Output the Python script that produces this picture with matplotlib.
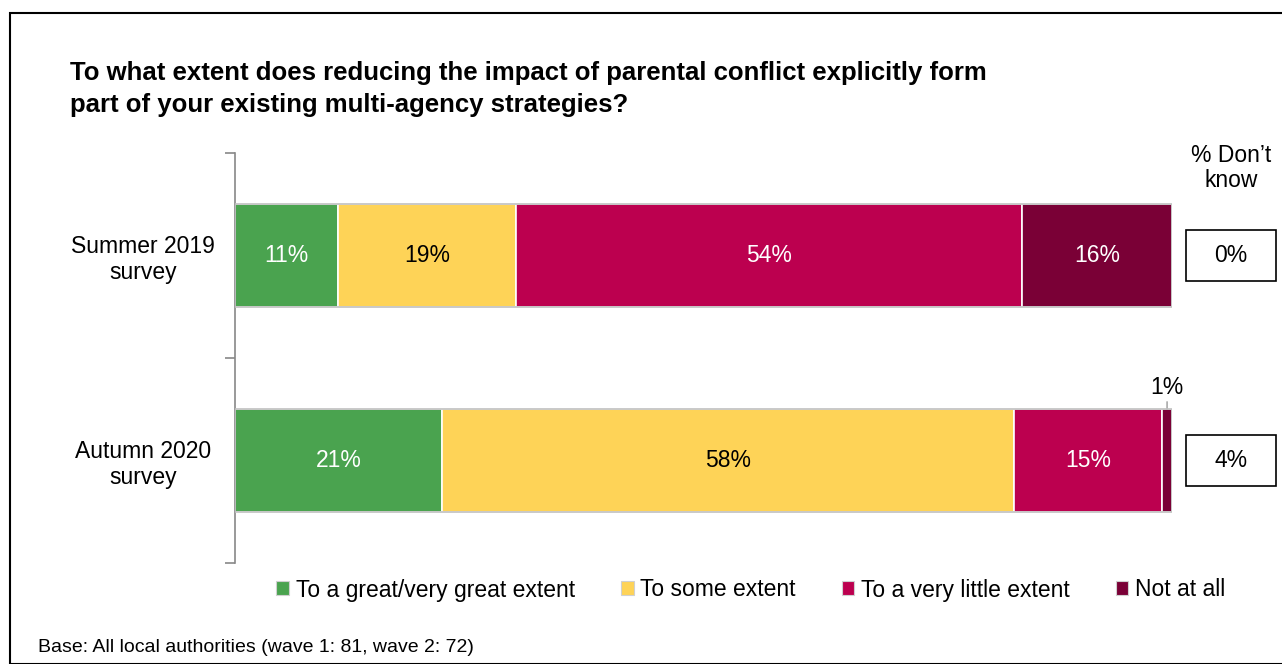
import numpy as np
import matplotlib.pyplot as plt
from matplotlib.patches import Patch, Rectangle
from matplotlib.transforms import blended_transform_factory

plt.rcParams['font.family'] = ['Liberation Sans', 'DejaVu Sans']

# Survey answers, % of respondents (labels as published)
waves = ['Summer 2019\nsurvey', 'Autumn 2020\nsurvey']
responses = ['To a great/very great extent', 'To some extent',
             'To a very little extent', 'Not at all']
summer_2019 = [11, 19, 54, 16]
autumn_2020 = [21, 58, 15, 1]
dont_know = [0, 4]

colours = ['#4aa34f', '#fed357', '#bc004f', '#7a0036']
label_colours = ['white', 'black', 'white', 'white']

fs = 16.5
fig = plt.figure(figsize=(12.82, 6.64), dpi=100)
W, H = 1282, 664

# frame around the slide
fig.patches.append(Rectangle((10 / W, 0), 1.0, 1 - 13 / H, transform=fig.transFigure,
                             fill=False, edgecolor='black', linewidth=1.5))

ax = fig.add_axes([235 / W, 1 - 563 / H, (1172 - 235) / W, (563 - 153) / H])

rows = np.array([summer_2019, autumn_2020], dtype=float)
# each bar is scaled so the known answers fill the full width
shares = rows / rows.sum(axis=1, keepdims=True)
bar_h = 0.5

for i, (vals, sh) in enumerate(zip(rows, shares)):
    left = 0.0
    for j, (v, s) in enumerate(zip(vals, sh)):
        ax.barh(i, s, left=left, height=bar_h, color=colours[j],
                edgecolor='white', linewidth=1.2)
        if v >= 3:
            ax.text(left + s / 2, i, f'{v:.0f}%', ha='center', va='center',
                    fontsize=fs, color=label_colours[j])
        else:
            ax.annotate(f'{v:.0f}%', xy=(left + s / 2, i - bar_h / 2),
                        xytext=(left + s / 2, i - bar_h / 2 - 0.05),
                        ha='center', va='bottom', fontsize=fs,
                        arrowprops=dict(arrowstyle='-', color='#999999', lw=1,
                                        shrinkA=0, shrinkB=0))
        left += s
    ax.add_patch(Rectangle((0, i - bar_h / 2), 1.0, bar_h, fill=False,
                           edgecolor='#c0c0c0', linewidth=1.2, zorder=3))

ax.set_xlim(0, 1)
ax.set_ylim(1.5, -0.5)
ax.set_xticks([])
ax.set_yticks([0, 1])
ax.set_yticklabels(waves, fontsize=fs, ha='center', linespacing=1.15)
ax.tick_params(axis='y', which='major', length=0, pad=66)
ax.set_yticks([-0.5, 0.5, 1.5], minor=True)
ax.tick_params(axis='y', which='minor', length=7, color='#888888', width=1.2)
for side in ['top', 'right', 'bottom']:
    ax.spines[side].set_visible(False)
ax.spines['left'].set_color('#888888')
ax.spines['left'].set_linewidth(1.2)

# "Don't know" boxes to the right of the bars
trans = blended_transform_factory(ax.transAxes, ax.transData)
box_x = (1186 - 235) / (1172 - 235)
box_w = 90 / (1172 - 235)
box_h = 51 / 205
for i, v in enumerate(dont_know):
    ax.add_patch(Rectangle((box_x, i - box_h / 2), box_w, box_h, transform=trans,
                           fill=False, edgecolor='black', linewidth=1.2, clip_on=False))
    ax.text(box_x + box_w / 2, i, f'{v}%', transform=trans, ha='center',
            va='center', fontsize=fs)
fig.text(1231 / W, 1 - 168 / H, '% Don\u2019t\nknow', ha='center', va='center',
         fontsize=fs, linespacing=1.15)

fig.text(70 / W, 1 - 61 / H,
         'To what extent does reducing the impact of parental conflict explicitly form\n'
         'part of your existing multi-agency strategies?',
         ha='left', va='top', fontsize=18.5, fontweight='bold', linespacing=1.4)

handles = [Patch(facecolor=c, edgecolor='#d0d0d0', linewidth=0.8) for c in colours]
fig.legend(handles, responses, loc='center', bbox_to_anchor=(751 / W, 1 - 590 / H),
           ncol=4, frameon=False, fontsize=fs, handlelength=0.55, handleheight=0.55,
           handletextpad=0.3, columnspacing=2.0)

fig.text(38 / W, 1 - 648 / H, 'Base: All local authorities (wave 1: 81, wave 2: 72)',
         ha='left', va='center', fontsize=14)

fig.savefig('out.png', dpi=100)
